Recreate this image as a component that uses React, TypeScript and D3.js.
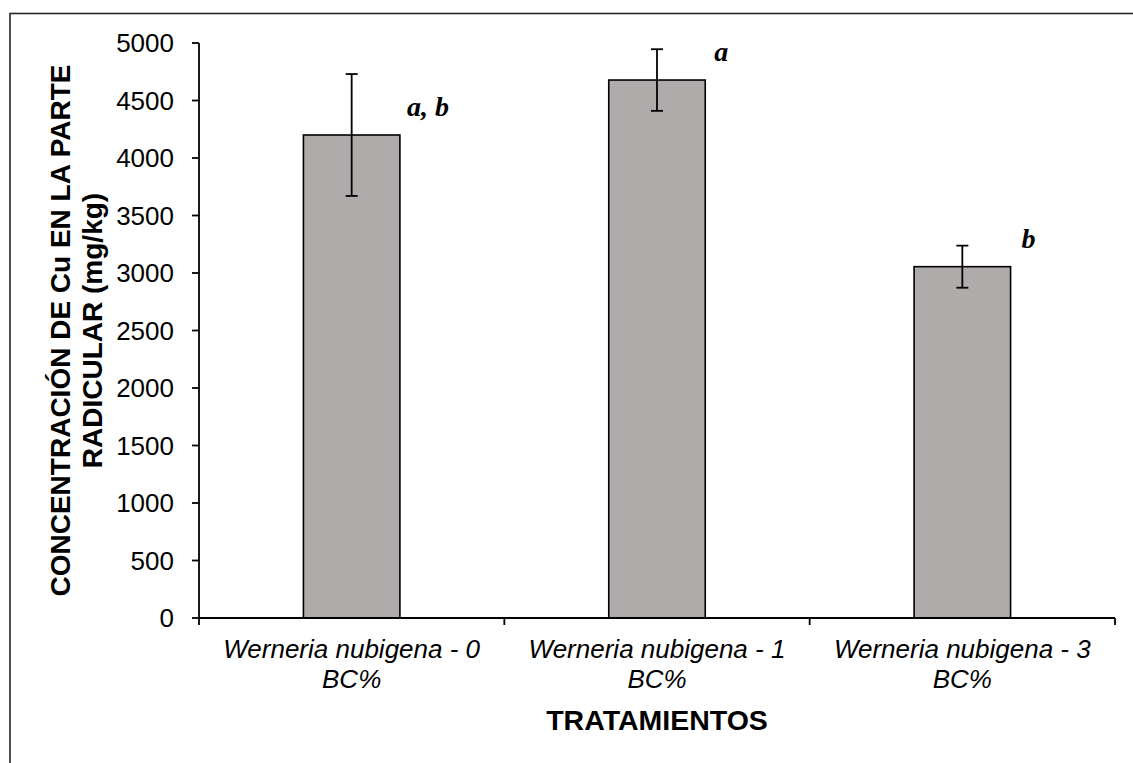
import React from "react";
import * as d3 from "d3";

const categoryLine1 = ["Werneria nubigena - 0", "Werneria nubigena - 1", "Werneria nubigena - 3"];
const categoryLine2 = ["BC%", "BC%", "BC%"];
const meanValues = [4200, 4678, 3055];
const errorValues = [530, 268, 183];
const groupLetters = ["a, b", "a", "b"];
const yTitleLines = ["CONCENTRACIÓN DE Cu EN LA PARTE", "RADICULAR (mg/kg)"];
const xTitle = "TRATAMIENTOS";

const W = 1133;
const H = 763;
const left = 199;
const right = 1115;
const top = 43;
const bottom = 618;

export default function App() {
  const x = d3
    .scaleBand<string>()
    .domain(categoryLine1)
    .range([left, right])
    .paddingInner(0.684)
    .paddingOuter(0.342);
  const y = d3.scaleLinear().domain([0, 5000]).range([bottom, top]);
  const yTicks = y.ticks(10);
  const step = x.step();
  const boundaries = d3.range(categoryLine1.length + 1).map((i) => left + i * step);
  const sans = "'Liberation Sans', Arial, sans-serif";
  const serif = "'Liberation Serif', 'Times New Roman', serif";
  const midY = (top + bottom) / 2;

  return (
    <svg
      width={W}
      height={H}
      style={{ position: "absolute", left: 0, top: 0, background: "#fff" }}
    >
      <rect x={0} y={0} width={W} height={H} fill="#fff" />
      <rect x={10} y={13.5} width={1300} height={900} fill="none" stroke="#262626" strokeWidth={1.6} />

      {/* bars */}
      {categoryLine1.map((c, i) => (
        <rect
          key={c}
          x={x(c)!}
          y={y(meanValues[i])}
          width={x.bandwidth()}
          height={bottom - y(meanValues[i])}
          fill="#AFABAB"
          stroke="#000"
          strokeWidth={1.6}
        />
      ))}

      {/* error bars */}
      {categoryLine1.map((c, i) => {
        const cx = x(c)! + x.bandwidth() / 2;
        const y1 = y(meanValues[i] + errorValues[i]);
        const y2 = y(meanValues[i] - errorValues[i]);
        return (
          <g key={"e" + c} stroke="#000" strokeWidth={1.8}>
            <line x1={cx} x2={cx} y1={y1} y2={y2} />
            <line x1={cx - 6} x2={cx + 6} y1={y1} y2={y1} />
            <line x1={cx - 6} x2={cx + 6} y1={y2} y2={y2} />
          </g>
        );
      })}

      {/* letters */}
      {categoryLine1.map((c, i) => (
        <text
          key={"l" + c}
          x={x(c)! + x.bandwidth() + 7 + i * 2}
          y={y(meanValues[i]) - 19}
          fontFamily={serif}
          fontStyle="italic"
          fontWeight="bold"
          fontSize={28}
          fill="#000"
        >
          {groupLetters[i]}
        </text>
      ))}

      {/* y axis */}
      <line x1={left} x2={left} y1={top} y2={bottom} stroke="#000" strokeWidth={1.8} />
      {yTicks.map((t) => (
        <g key={"y" + t}>
          <line x1={left - 7} x2={left} y1={y(t)} y2={y(t)} stroke="#000" strokeWidth={1.8} />
          <text
            x={174}
            y={y(t)}
            dy="0.36em"
            textAnchor="end"
            fontFamily={sans}
            fontSize={26}
            fill="#000"
          >
            {t}
          </text>
        </g>
      ))}

      {/* x axis */}
      <line x1={left} x2={right} y1={bottom} y2={bottom} stroke="#000" strokeWidth={1.8} />
      {boundaries.map((bx, i) => (
        <line key={"xt" + i} x1={bx} x2={bx} y1={bottom} y2={bottom + 7} stroke="#000" strokeWidth={1.8} />
      ))}
      {categoryLine1.map((c, i) => {
        const cx = x(c)! + x.bandwidth() / 2;
        return (
          <text
            key={"xl" + c}
            textAnchor="middle"
            fontFamily={sans}
            fontStyle="italic"
            fontSize={26}
            fill="#000"
          >
            <tspan x={cx} y={658}>{c}</tspan>
            <tspan x={cx} y={688}>{categoryLine2[i]}</tspan>
          </text>
        );
      })}

      {/* axis titles */}
      <text
        x={(left + right) / 2}
        y={730}
        textAnchor="middle"
        fontFamily={sans}
        fontWeight="bold"
        fontSize={28.5}
        fill="#000"
      >
        {xTitle}
      </text>
      <text
        transform={`translate(70, ${midY}) rotate(-90)`}
        textAnchor="middle"
        fontFamily={sans}
        fontWeight="bold"
        fontSize={28}
        fill="#000"
      >
        {yTitleLines[0]}
      </text>
      <text
        transform={`translate(102, ${midY}) rotate(-90)`}
        textAnchor="middle"
        fontFamily={sans}
        fontWeight="bold"
        fontSize={28}
        fill="#000"
      >
        {yTitleLines[1]}
      </text>
    </svg>
  );
}
